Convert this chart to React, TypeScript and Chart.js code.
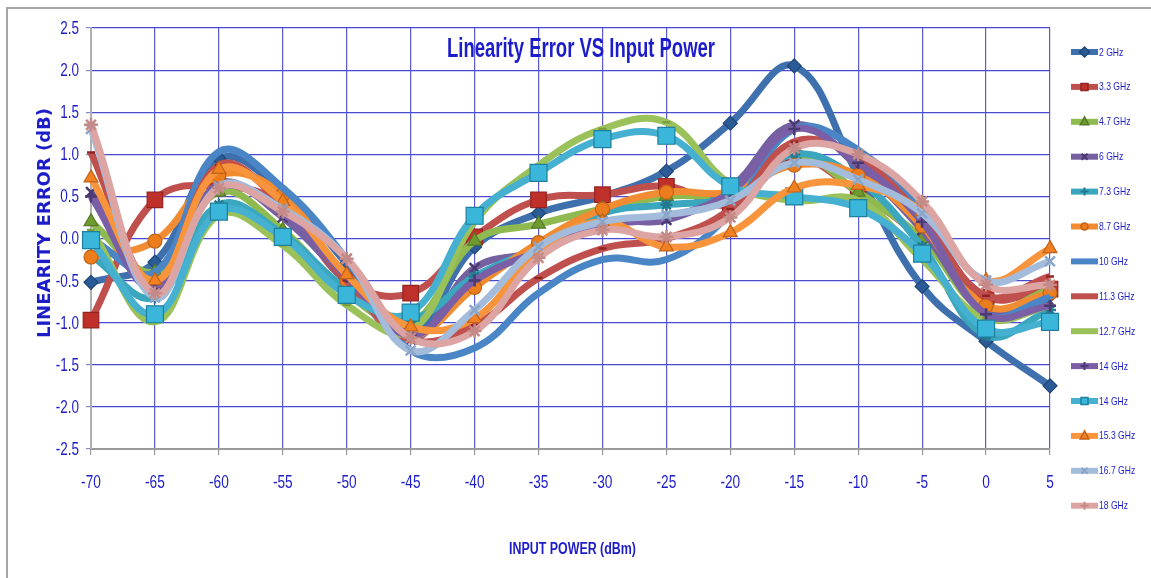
import React, { useEffect, useRef } from 'react';
import { Chart, registerables } from 'chart.js';

Chart.register(...registerables);

// ---------- data ----------
const xLabels = ['-70', '-65', '-60', '-55', '-50', '-45', '-40', '-35', '-30', '-25', '-20', '-15', '-10', '-5', '0', '5'];

const seriesNames = ['2 GHz', '3.3 GHz', '4.7 GHz', '6 GHz', '7.3 GHz', '8.7 GHz', '10 GHz', '11.3 GHz', '12.7 GHz', '14 GHz', '14 GHz', '15.3 GHz', '16.7 GHz', '18 GHz'];

const ghz2 = [-0.52, -0.28, 0.95, 0.55, -0.30, -1.10, -0.10, 0.30, 0.50, 0.80, 1.37, 2.05, 0.75, -0.57, -1.22, -1.75];
const ghz3_3 = [-0.97, 0.46, 0.62, 0.40, -0.50, -0.65, 0.02, 0.46, 0.52, 0.62, 0.40, 0.95, 0.55, 0.00, -0.70, -0.60];
const ghz4_7 = [0.20, -0.40, 0.55, 0.10, -0.65, -1.00, -0.03, 0.17, 0.35, 0.50, 0.55, 1.00, 0.55, 0.00, -0.85, -0.60];
const ghz6 = [0.55, -0.50, 0.65, 0.25, -0.50, -1.20, -0.35, -0.15, 0.20, 0.22, 0.60, 1.35, 0.85, 0.10, -0.85, -0.75];
const ghz7_3 = [-0.20, -0.70, 0.40, 0.05, -0.60, -0.95, -0.45, -0.10, 0.30, 0.40, 0.50, 1.00, 0.70, -0.10, -1.15, -0.85];
const ghz8_7 = [-0.22, -0.03, 0.75, 0.52, -0.50, -1.15, -0.58, -0.05, 0.35, 0.55, 0.55, 0.87, 0.75, 0.15, -0.80, -0.65];
const ghz10 = [0.00, -0.40, 1.03, 0.60, -0.25, -1.33, -1.30, -0.65, -0.25, -0.25, 0.30, 1.30, 1.05, 0.30, -0.90, -0.70];
const ghz11_3 = [1.02, -0.55, 0.87, 0.40, -0.50, -1.20, -1.03, -0.47, -0.12, 0.00, 0.35, 1.15, 0.95, 0.25, -0.68, -0.45];
const ghz12_7 = [0.10, -0.99, 0.28, -0.08, -0.79, -1.10, 0.20, 0.87, 1.30, 1.38, 0.65, 0.45, 0.45, -0.25, -0.95, -0.80];
const ghz14a = [0.50, -0.60, 0.60, 0.30, -0.45, -1.15, -0.50, -0.15, 0.15, 0.25, 0.55, 1.30, 0.90, 0.20, -0.90, -0.80];
const ghz14b = [-0.02, -0.90, 0.32, 0.02, -0.67, -0.88, 0.27, 0.78, 1.18, 1.22, 0.62, 0.50, 0.36, -0.18, -1.07, -0.99];
const ghz15_3 = [0.72, -0.50, 0.82, 0.44, -0.43, -1.05, -0.95, -0.15, 0.20, -0.10, 0.07, 0.60, 0.63, 0.32, -0.50, -0.12];
const ghz16_7 = [1.30, -0.70, 0.62, 0.35, -0.24, -1.33, -0.85, -0.10, 0.20, 0.28, 0.45, 0.90, 0.70, 0.30, -0.50, -0.27];
const ghz18 = [1.35, -0.65, 0.60, 0.32, -0.24, -1.18, -1.10, -0.23, 0.10, 0.02, 0.25, 1.07, 1.00, 0.44, -0.55, -0.55];

const seriesValues = [ghz2, ghz3_3, ghz4_7, ghz6, ghz7_3, ghz8_7, ghz10, ghz11_3, ghz12_7, ghz14a, ghz14b, ghz15_3, ghz16_7, ghz18];

const yMin = -2.5;
const yMax = 2.5;
const yStep = 0.5;

const chartTitle = 'Linearity Error VS Input Power';
const yAxisTitle = 'LINEARITY ERROR (dB)';
const xAxisTitle = 'INPUT POWER (dBm)';

// ---------- styles ----------
const lineColors = ['#3f70ae', '#c0504d', '#8fba4f', '#7560a0', '#3aa7bf', '#f28c32', '#4a86c6', '#c0504d', '#9bc15a', '#7a5fa6', '#45b0d0', '#f7943c', '#a3bcdc', '#dca4a2'];
const markerFill = ['#2b5b96', '#c0302b', '#6f9a2e', '#5a4488', '#2f93ad', '#ec7d1c', '#4a86c6', '#b84441', '#a8cc6a', '#6a4f98', '#39b6da', '#f08020', '#b9c9e2', '#e2b0ae'];
const markerStroke = ['#1f4677', '#8e2522', '#56792a', '#4b3a72', '#23798f', '#c0621a', '#4a86c6', '#8e2522', '#7aa03d', '#4b3a72', '#1f7f9c', '#c0621a', '#8aa5c8', '#c48a88'];
const pointStyles = ['rectRot', 'rect', 'triangle', 'crossRot', 'star', 'circle', 'line', 'line', 'line', 'cross', 'rect', 'triangle', 'crossRot', 'star'];
const pointRadii = [7, 11, 8, 7, 6, 7, 4, 4, 4, 6, 12, 8, 7, 7];

const BLUE_TEXT = '#1c1cc8';
const SANS = '"Liberation Sans", Arial, sans-serif';

function drawMarker(ctx: CanvasRenderingContext2D, style: string, x: number, y: number, r: number, fill: string, stroke: string) {
  ctx.save();
  ctx.fillStyle = fill;
  ctx.strokeStyle = stroke;
  ctx.lineWidth = 1.5;
  ctx.beginPath();
  switch (style) {
    case 'rectRot':
      ctx.moveTo(x, y - r); ctx.lineTo(x + r, y); ctx.lineTo(x, y + r); ctx.lineTo(x - r, y); ctx.closePath();
      ctx.fill(); ctx.stroke();
      break;
    case 'rect':
      ctx.rect(x - r * 0.7, y - r * 0.7, r * 1.4, r * 1.4);
      ctx.fill(); ctx.stroke();
      break;
    case 'triangle':
      ctx.moveTo(x, y - r); ctx.lineTo(x + r * 0.85, y + r * 0.6); ctx.lineTo(x - r * 0.85, y + r * 0.6); ctx.closePath();
      ctx.fill(); ctx.stroke();
      break;
    case 'circle':
      ctx.arc(x, y, r * 0.7, 0, Math.PI * 2);
      ctx.fill(); ctx.stroke();
      break;
    case 'crossRot':
      ctx.lineWidth = 2;
      ctx.moveTo(x - r * 0.6, y - r * 0.6); ctx.lineTo(x + r * 0.6, y + r * 0.6);
      ctx.moveTo(x + r * 0.6, y - r * 0.6); ctx.lineTo(x - r * 0.6, y + r * 0.6);
      ctx.stroke();
      break;
    case 'cross':
    case 'star':
      ctx.lineWidth = 2;
      ctx.moveTo(x, y - r * 0.8); ctx.lineTo(x, y + r * 0.8);
      ctx.moveTo(x - r * 0.8, y); ctx.lineTo(x + r * 0.8, y);
      ctx.stroke();
      break;
    default:
      ctx.lineWidth = 2;
      ctx.moveTo(x - r * 0.5, y); ctx.lineTo(x + r * 0.5, y);
      ctx.stroke();
  }
  ctx.restore();
}

// draws horizontally condensed text (the original uses a narrow face)
function condensedText(
  ctx: CanvasRenderingContext2D,
  text: string,
  x: number,
  y: number,
  font: string,
  sx: number,
  align: CanvasTextAlign,
  baseline: CanvasTextBaseline = 'middle',
) {
  ctx.save();
  ctx.font = font;
  ctx.fillStyle = BLUE_TEXT;
  ctx.textAlign = align;
  ctx.textBaseline = baseline;
  ctx.translate(x, y);
  ctx.scale(sx, 1);
  ctx.fillText(text, 0, 0);
  ctx.restore();
}

const decorPlugin = {
  id: 'decor',
  beforeDraw(chart: any) {
    const ctx: CanvasRenderingContext2D = chart.ctx;
    ctx.save();
    ctx.fillStyle = '#ffffff';
    ctx.fillRect(0, 0, chart.width, chart.height);
    ctx.strokeStyle = '#a6a6a6';
    ctx.lineWidth = 2;
    ctx.beginPath();
    ctx.moveTo(7, chart.height);
    ctx.lineTo(7, 8);
    ctx.lineTo(chart.width, 8);
    ctx.stroke();
    ctx.restore();
  },
  afterDraw(chart: any) {
    const ctx: CanvasRenderingContext2D = chart.ctx;
    const area = chart.chartArea;
    const xs = chart.scales.x;
    const ys = chart.scales.y;

    // x tick labels
    xs.ticks.forEach((t: any, idx: number) => {
      const px = xs.getPixelForTick(idx);
      const label = String(xs.getLabelForValue(t.value));
      condensedText(ctx, label, px, 483, `19px ${SANS}`, 0.72, 'center');
    });

    // y tick labels
    ys.ticks.forEach((t: any) => {
      const py = ys.getPixelForValue(t.value);
      const n = Math.abs(t.value) < 1e-9 ? 0 : t.value;
      condensedText(ctx, Number(n).toFixed(1), 79, py + 1, `18px ${SANS}`, 0.75, 'right');
    });

    // x axis title
    {
      ctx.save();
      ctx.font = `bold 16px ${SANS}`;
      const w = ctx.measureText(xAxisTitle).width;
      ctx.restore();
      condensedText(ctx, xAxisTitle, (area.left + area.right) / 2 + 2, 550, `bold 16px ${SANS}`, 127 / w, 'center');
    }

    // chart title (inside plot area)
    {
      ctx.save();
      ctx.font = `bold 27px ${SANS}`;
      const w = ctx.measureText(chartTitle).width;
      ctx.restore();
      condensedText(ctx, chartTitle, 581, 57, `bold 27px ${SANS}`, 268 / w, 'center', 'alphabetic');
    }

    // y axis title
    ctx.save();
    ctx.font = `bold 18px "DejaVu Sans", Verdana, sans-serif`;
    ctx.fillStyle = BLUE_TEXT;
    ctx.textAlign = 'center';
    ctx.textBaseline = 'middle';
    ctx.translate(45, 223);
    ctx.rotate(-Math.PI / 2);
    const yw = ctx.measureText(yAxisTitle).width;
    ctx.scale(Math.min(1, 240 / yw), 1);
    ctx.fillText(yAxisTitle, 0, 0);
    ctx.restore();

    // legend
    const legendX = 1071;
    const lineLen = 27;
    const startY = 52;
    const stepY = 34.9;
    chart.data.datasets.forEach((ds: any, i: number) => {
      const y = startY + i * stepY;
      ctx.save();
      ctx.strokeStyle = lineColors[i];
      ctx.lineWidth = 6;
      ctx.lineCap = 'butt';
      ctx.beginPath();
      ctx.moveTo(legendX, y);
      ctx.lineTo(legendX + lineLen, y);
      ctx.stroke();
      ctx.restore();
      if (pointStyles[i] !== 'line') {
        drawMarker(ctx, pointStyles[i], legendX + lineLen / 2, y, 5, markerFill[i], markerStroke[i]);
      }
      condensedText(ctx, ds.label, legendX + lineLen + 1, y + 0.5, `11px ${SANS}`, 0.78, 'left');
    });
  },
};

export default function App() {
  const canvasRef = useRef<HTMLCanvasElement | null>(null);

  useEffect(() => {
    document.body.style.margin = '0';
    const canvas = canvasRef.current;
    if (!canvas) return;

    const datasets = seriesNames.map((name, i) => ({
      label: name,
      data: seriesValues[i],
      borderColor: lineColors[i],
      backgroundColor: lineColors[i],
      borderWidth: 7,
      tension: 0.4,
      fill: false,
      pointStyle: pointStyles[i],
      pointRadius: pointRadii[i],
      pointHoverRadius: pointRadii[i],
      pointBackgroundColor: markerFill[i],
      pointBorderColor: markerStroke[i],
      pointBorderWidth: ['crossRot', 'cross', 'star', 'line'].includes(pointStyles[i]) ? 2.5 : 1.2,
      order: seriesNames.length - 1 - i,
    }));

    const chart = new Chart(canvas, {
      type: 'line',
      data: { labels: xLabels, datasets },
      options: {
        responsive: false,
        animation: false,
        layout: { padding: { left: 0, right: 101, top: 28, bottom: 0 } },
        plugins: {
          legend: { display: false },
          title: { display: false },
          tooltip: { enabled: false },
        },
        scales: {
          x: {
            type: 'category',
            offset: false,
            grid: { color: '#5a5ad8', lineWidth: 1.2, tickColor: '#999999', tickLength: 6 },
            border: { color: '#9a9a9a', width: 2 },
            ticks: { display: false, autoSkip: false, maxRotation: 0 },
            title: { display: false },
            afterFit: (s: any) => { s.height = 129; },
          },
          y: {
            min: yMin,
            max: yMax,
            grid: { color: '#4a4ad0', lineWidth: 1.2, tickColor: '#8888cc', tickLength: 5 },
            border: { color: '#b0b0b0', width: 2 },
            ticks: { display: false, stepSize: yStep },
            afterFit: (s: any) => { s.width = 91; },
          },
        },
      },
      plugins: [decorPlugin],
    } as any);

    return () => chart.destroy();
  }, []);

  return (
    <div style={{ width: 1151, height: 578, background: '#ffffff' }}>
      <canvas ref={canvasRef} width={1151} height={578} style={{ display: 'block' }} />
    </div>
  );
}
